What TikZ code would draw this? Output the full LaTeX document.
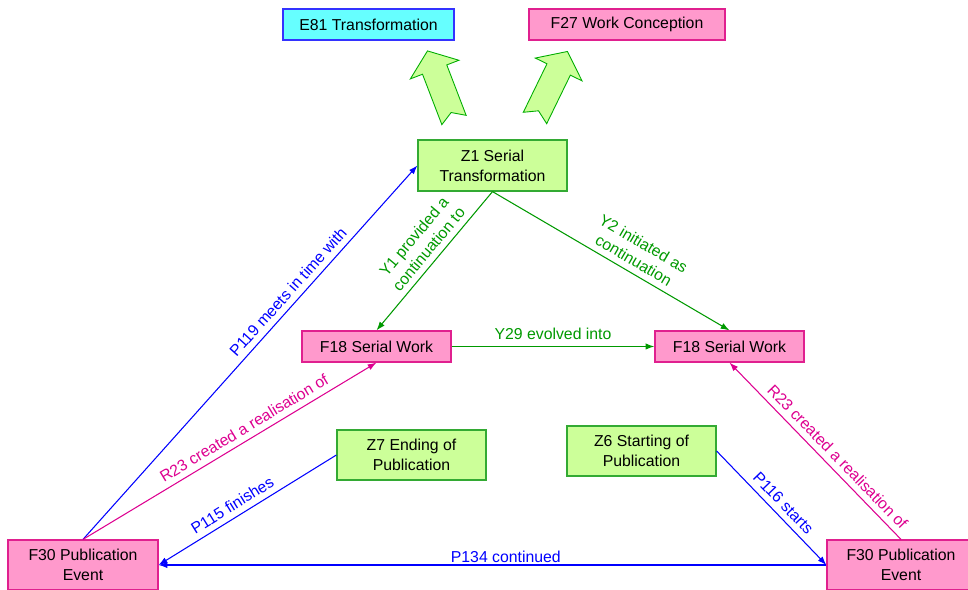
\documentclass[tikz,border=0pt]{standalone}
\usepackage{fontspec}
\setmainfont{Liberation Sans}
\usetikzlibrary{arrows.meta}

\definecolor{cyanfill}{HTML}{66FFFF}
\definecolor{pinkfill}{HTML}{FF99CC}
\definecolor{greenfill}{HTML}{CCFF99}
\definecolor{boxblue}{HTML}{3333FF}
\definecolor{boxpink}{HTML}{E0208F}
\definecolor{boxgreen}{HTML}{33AA33}
\definecolor{linegreen}{HTML}{009900}
\definecolor{lineblue}{HTML}{0000FF}
\definecolor{linepink}{HTML}{DD0090}

\tikzset{
  box/.style={draw, line width=0.7pt, inner sep=0pt, align=center,
    minimum height=0.62cm, font=\fontsize{9}{11.5}\selectfont},
  entity/.style={box, fill=cyanfill, draw=boxblue},
  frbr/.style={box, fill=pinkfill, draw=boxpink},
  serial/.style={box, fill=greenfill, draw=boxgreen},
  link/.style={line width=0.6pt, -{Latex[length=5pt,width=3.6pt]},
    font=\fontsize{9}{11}\selectfont},
  bigarrow/.style={fill=greenfill, draw=linegreen!80!green, line width=0.5pt, line join=miter}
}

\begin{document}
\begin{tikzpicture}[x=0.02cm, y=-0.02cm]
  \useasboundingbox (0,0) rectangle (968,590);

  % Classes on top
  \node[entity, minimum width=3.42cm] (e81) at (368.5,24.5) {E81 Transformation};
  \node[frbr, minimum width=3.92cm] (f27) at (627,24.5) {F27 Work Conception};

  % Subclass arrows
  \foreach \x/\y/\a in {454/120/21, 535/118/-26}
    \draw[bigarrow, shift={(\x,\y)}, rotate=\a]
      (-13,0) -- (0,-8) -- (13,0) -- (13,-54) -- (26,-54)
      -- (0,-74) -- (-26,-54) -- (-13,-54) -- cycle;

  % Nodes
  \node[serial, minimum width=2.98cm, minimum height=1.02cm] (z1) at (492.5,165.5) {Z1 Serial\\Transformation};
  \node[frbr, minimum width=2.98cm] (f18l) at (376.5,346.5) {F18 Serial Work};
  \node[frbr, minimum width=2.98cm] (f18r) at (729.5,346.5) {F18 Serial Work};
  \node[serial, minimum width=2.98cm, minimum height=1cm] (z7) at (411.5,455) {Z7 Ending of\\Publication};
  \node[serial, minimum width=2.98cm, minimum height=1cm] (z6) at (641.5,451) {Z6 Starting of\\Publication};
  \node[frbr, minimum width=3cm, minimum height=1cm] (f30l) at (83,565) {F30 Publication\\Event};
  \node[frbr, minimum width=2.96cm, minimum height=1cm] (f30r) at (901,565) {F30 Publication\\Event};

  % Properties
  \draw[link, linegreen] (z1.south) -- (f18l.north)
    node[pos=0.47, sloped, above, align=center, text=linegreen] {Y1 provided a\\continuation to};
  \draw[link, linegreen] (z1.south) -- (f18r.north)
    node[pos=0.57, sloped, above, align=center, text=linegreen] {Y2 initiated as\\continuation};
  \draw[link, linegreen] (f18l.east) -- (f18r.west)
    node[midway, above, text=linegreen] {Y29 evolved into};

  \draw[link, lineblue] (f30l.north) -- (z1.west)
    node[pos=0.64, sloped, above, text=lineblue] {P119 meets in time with};
  \draw[link, linepink] (f30l.north) -- (f18l.south)
    node[pos=0.57, sloped, above, text=linepink] {R23 created a realisation of};
  \draw[link, linepink] (f30r.north) -- (f18r.south)
    node[pos=0.42, sloped, above, text=linepink] {R23 created a realisation of};

  \draw[link, lineblue] (z7.west) -- (f30l.east)
    node[pos=0.55, sloped, above, text=lineblue] {P115 finishes};
  \draw[link, lineblue] (z6.east) -- (f30r.west)
    node[pos=0.53, sloped, above, text=lineblue] {P116 starts};
  \draw[link, lineblue] (f30r.west) -- (f30l.east)
    node[pos=0.48, above, inner sep=1pt, text=lineblue] {P134 continued};
\end{tikzpicture}
\end{document}
